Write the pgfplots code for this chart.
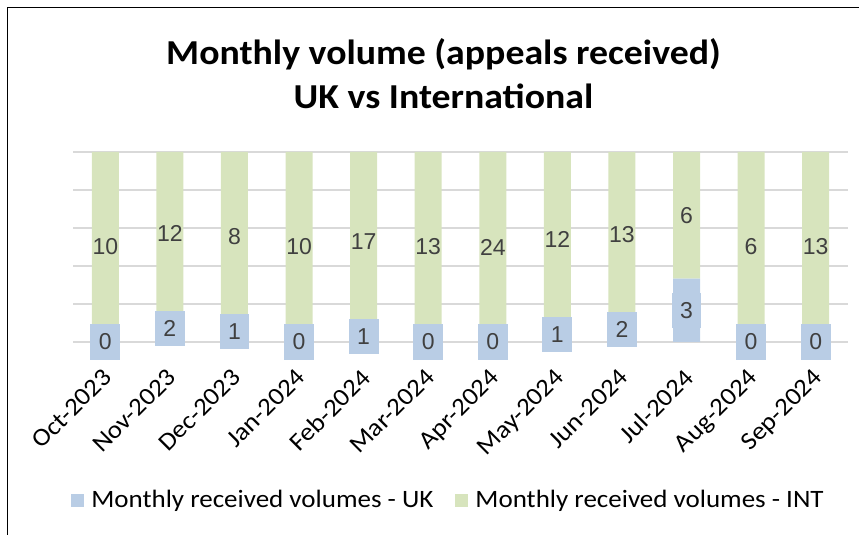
\documentclass[border=0pt]{standalone}
\usepackage{fontspec}
\setmainfont[FakeStretch=1.08]{Carlito}
\newfontfamily\labelfont{Liberation Sans}
\usepackage{pgfplots}
\usepackage{pgfplotstable}
\pgfplotsset{compat=1.18}

\definecolor{ukblue}{HTML}{B9CDE5}
\definecolor{intgreen}{HTML}{D7E4BD}
\definecolor{gridgray}{HTML}{D9D9D9}
\definecolor{labelgray}{HTML}{404040}

% appeals received per month
\pgfplotstableread{
x month    uk int
0 Oct-2023 0 10
1 Nov-2023 2 12
2 Dec-2023 1 8
3 Jan-2024 0 10
4 Feb-2024 1 17
5 Mar-2024 0 13
6 Apr-2024 0 24
7 May-2024 1 12
8 Jun-2024 2 13
9 Jul-2024 3 6
10 Aug-2024 0 6
11 Sep-2024 0 13
}\volumes

\pgfplotsset{
  chartframe/.style={
    at={(73pt,193pt)}, anchor=south west,
    scale only axis, width=775pt, height=190pt,
    xmin=-0.5, xmax=11.5, ymin=0, ymax=100,
    /pgf/number format/assume math mode=true,
  },
}
\tikzset{
  datalabel/.style={
    anchor=center, text=labelgray,
    font=\labelfont\fontsize{23}{26}\selectfont,
  },
}

\begin{document}
\begin{tikzpicture}[x=1pt,y=1pt]
\useasboundingbox (0,0) rectangle (859,535);
\draw[line width=1.5pt] (7.5,0) -- (7.5,527.5) -- (859,527.5);
\node[font=\fontsize{35}{44}\selectfont\bfseries, align=center] at (443.5,461)
  {Monthly volume (appeals received)\\UK vs International};

\begin{axis}[
  chartframe,
  ybar stacked, bar width=27pt,
  axis line style={draw=none},
  major tick length=0pt,
  ytick={0,20,...,100}, yticklabel=\empty,
  ymajorgrids, grid style={gridgray, line width=1.5pt},
  xtick=data,
  xticklabels from table={\volumes}{month},
  xticklabel style={inner sep=0pt, anchor=north east,
    xshift=-4pt, yshift=-25pt, rotate=45,
    font=\fontsize{25}{28}\selectfont},
  legend style={at={(0.4845,-0.8316)}, anchor=center, draw=none,
    font=\fontsize{25}{28}\selectfont, legend columns=2,
    /tikz/every even column/.append style={column sep=20pt}},
  legend image code/.code={\fill[#1] (0pt,-6.5pt) rectangle (13pt,6.5pt);
    \path (18pt,0pt);},
]
\addplot[fill=ukblue, draw=none] table[x=x,
  y expr={100*\thisrow{uk}/(\thisrow{uk}+\thisrow{int})}] {\volumes};
\addplot[fill=intgreen, draw=none] table[x=x,
  y expr={100*\thisrow{int}/(\thisrow{uk}+\thisrow{int})}] {\volumes};
\legend{Monthly received volumes - UK, Monthly received volumes - INT}
\end{axis}

% data labels, centred in each segment
\begin{axis}[chartframe, hide axis]
\addplot[draw=none, mark=none, nodes near coords, point meta=explicit,
  every node near coord/.style={datalabel, fill=ukblue,
    inner xsep=8.5pt, inner ysep=9.5pt}]
  table[x=x, y expr={50*\thisrow{uk}/(\thisrow{uk}+\thisrow{int})}, meta=uk] {\volumes};
\addplot[draw=none, mark=none, nodes near coords, point meta=explicit,
  every node near coord/.style={datalabel}]
  table[x=x, y expr={100*(\thisrow{uk}+0.5*\thisrow{int})/(\thisrow{uk}+\thisrow{int})}, meta=int] {\volumes};
\end{axis}
\end{tikzpicture}
\end{document}
